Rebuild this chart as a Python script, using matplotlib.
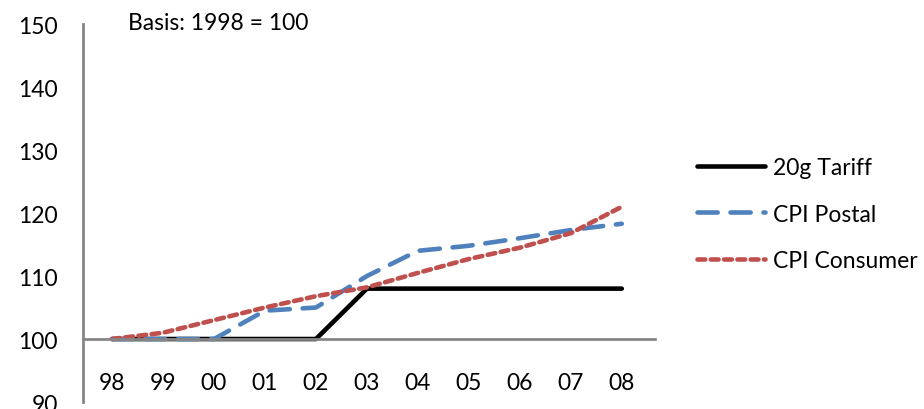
import matplotlib
matplotlib.use("Agg")
import matplotlib.pyplot as plt

plt.rcParams['font.family'] = ['Lato', 'DejaVu Sans']

years = ["98", "99", "00", "01", "02", "03", "04", "05", "06", "07", "08"]
tariff_20g = [100, 100, 100, 100, 100, 108, 108, 108, 108, 108, 108]
cpi_postal = [100, 100, 100, 104.5, 105, 110, 114, 114.8, 116, 117.3, 118.3]
cpi_consumer = [100, 101, 103, 105, 106.8, 108.2, 110.5, 112.7, 114.5, 116.8, 121]
y_ticks = [90, 100, 110, 120, 130, 140, 150]

FS = 16.5

fig = plt.figure(figsize=(9.24, 4.10), dpi=100)
ax = fig.add_axes([0.0898, 0.017, 0.619, 0.922])

x = list(range(len(years)))
ax.plot(x, tariff_20g, color="#000000", lw=3.3, label="20g Tariff",
        solid_capstyle="round", solid_joinstyle="round")
ax.plot(x, cpi_postal, color="#4F81BD", lw=3.3, label="CPI Postal",
        dashes=(4.4, 2.8), dash_capstyle="round")
ax.plot(x, cpi_consumer, color="#C0504D", lw=3.3, label="CPI Consumer",
        dashes=(1.7, 1.2), dash_capstyle="round")

ax.set_xlim(-0.57, 10.65)
ax.set_ylim(90, 150)

axis_gray = "#868686"
ax.spines['top'].set_visible(False)
ax.spines['right'].set_visible(False)
ax.spines['left'].set_color(axis_gray)
ax.spines['left'].set_linewidth(2)
ax.spines['bottom'].set_color(axis_gray)
ax.spines['bottom'].set_linewidth(2)
ax.spines['bottom'].set_position(('data', 100))

ax.set_xticks(x)
ax.set_xticklabels(years)
ax.set_yticks(y_ticks)
ax.tick_params(axis='x', length=0, pad=24, labelsize=FS, colors="#000000")
ax.tick_params(axis='y', length=0, pad=18, labelsize=FS, colors="#000000")
ax.set_facecolor("none")

fig.text(128 / 924, 1 - 24 / 410, "Basis: 1998 = 100",
         fontsize=FS, ha="left", va="center")

fig.legend(loc="center left", bbox_to_anchor=(697 / 924, 1 - 215 / 410),
           frameon=False, fontsize=FS, handlelength=2.97, handletextpad=0.35,
           labelspacing=1.12, borderpad=0, borderaxespad=0)

fig.savefig("out.png", dpi=100, facecolor="white")
